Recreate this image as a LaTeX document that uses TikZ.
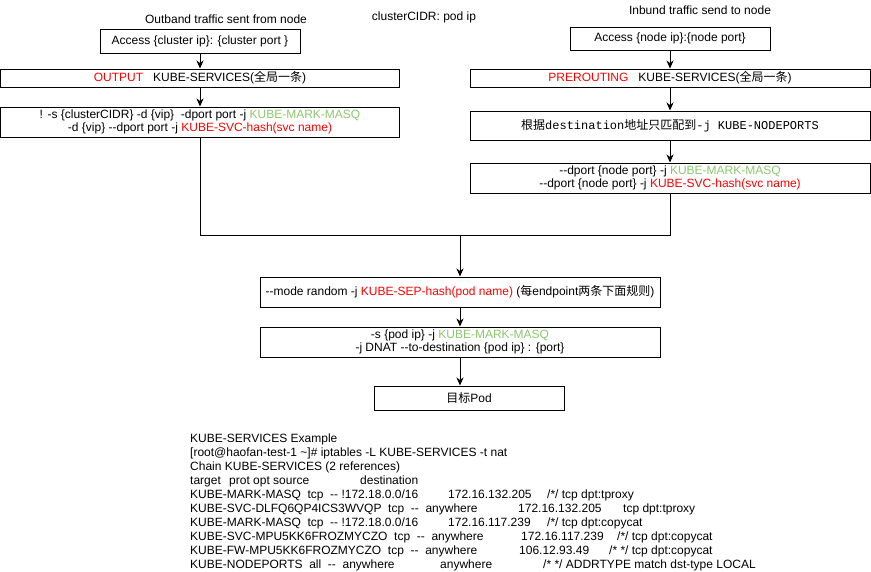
\documentclass[tikz,border=0pt]{standalone}
\usepackage{fontspec}
\newfontfamily\sansfont{Liberation Sans}
\newfontfamily\monofont{Liberation Mono}
\newfontfamily\cjk{Noto Sans CJK SC}
\usetikzlibrary{arrows.meta}
\definecolor{kred}{RGB}{255,0,0}
\definecolor{kgreen}{RGB}{140,200,110}

\begin{document}
\begin{tikzpicture}[x=1pt, y=-1pt, font=\sansfont\fontsize{12}{13.5}\selectfont,
        rulebox/.style={draw, line width=1pt, inner sep=0pt, align=center},
        flow/.style={-{Stealth[length=8pt,width=7pt,inset=2.5pt]}, line width=1pt},
        txt/.style={anchor=base west, inner sep=0pt}]
        \fill[white] (0,0) rectangle (871,571);
        \useasboundingbox (0,0) rectangle (871,571);

        % titles
        \node (outtitle) at (226,19) {Outband traffic sent from node};
        \node (cidr) at (424,17) {clusterCIDR: pod ip};
        \node (intitle) at (700,10) {Inbund traffic send to node};

        % outband side
        \node[rulebox, minimum width=200, minimum height=24] (accc) at (200,41) {Access \{cluster ip\}: \{cluster port \}};
        \node[rulebox, minimum width=399, minimum height=18] (output) at (200,78) {{\color{kred}OUTPUT}\ \ \ KUBE-SERVICES({\cjk 全局一条})};
        \node[rulebox, minimum width=399, minimum height=30] (lrule) at (200,122) {! -s \{clusterCIDR\} -d \{vip\}\ \ -dport port -j {\color{kgreen}KUBE-MARK-MASQ}\\
            -d \{vip\} --dport port -j {\color{kred}KUBE-SVC-hash(svc name)}};

        % inbund side
        \node[rulebox, minimum width=200, minimum height=23] (accn) at (670,38.5) {Access \{node ip\}:\{node port\}};
        \node[rulebox, minimum width=400, minimum height=18] (prert) at (670,78) {{\color{kred}PREROUTING}\ \ \ KUBE-SERVICES({\cjk 全局一条})};
        \node[rulebox, minimum width=400, minimum height=29] (nodeports) at (670,125.5) {{\cjk 根据}{\monofont destination}{\cjk 地址只匹配到}{\monofont -j KUBE-NODEPORTS}};
        \node[rulebox, minimum width=400, minimum height=30] (rdport) at (670,178) {--dport \{node port\} -j {\color{kgreen}KUBE-MARK-MASQ}\\
            --dport \{node port\} -j {\color{kred}KUBE-SVC-hash(svc name)}};

        % common part
        \coordinate (merge) at (460,235);
        \node[rulebox, minimum width=400, minimum height=30] (sep) at (460,292) {--mode random -j {\color{kred}KUBE-SEP-hash(pod name)} ({\cjk 每}endpoint{\cjk 两条下面规则})};
        \node[rulebox, minimum width=400, minimum height=30] (dnat) at (460,342) {-s \{pod ip\} -j {\color{kgreen}KUBE-MARK-MASQ}\\
            -j DNAT --to-destination \{pod ip\} : \{port\}};
        \node[rulebox, minimum width=190, minimum height=24] (pod) at (469,398) {{\cjk 目标}Pod};

        \draw[flow] (accc) -- (output);
        \draw[flow] (output) -- (lrule);
        \draw[flow] (accn) -- (prert);
        \draw[flow] (prert) -- (nodeports);
        \draw[flow] (nodeports) -- (rdport);
        \draw[line width=1pt] (lrule.south) |- (rdport.south |- merge) -- (rdport.south);
        \draw[flow] (merge) -- (sep.north);
        \draw[flow] (sep) -- (dnat);
        \draw[flow] (dnat.south) -- (dnat.south |- pod.north);

        % example listing
        \node[txt] (l1) at (190,442) {KUBE-SERVICES Example};
        \node[txt] (l2) at (190,456) {[root@haofan-test-1 \textasciitilde]\# iptables -L KUBE-SERVICES -t nat};
        \node[txt] (l3) at (190,470) {Chain KUBE-SERVICES (2 references)};
        \node[txt] (l4) at (190,484) {target};
        \node[txt] (l4b) at (229,484) {prot opt source};
        \node[txt] (l4c) at (360,484) {destination};
        \node[txt] (l5) at (190,498) {KUBE-MARK-MASQ\ \ tcp\ \ -- !172.18.0.0/16};
        \node[txt] (l5b) at (448,498) {172.16.132.205};
        \node[txt] (l5c) at (547,498) {/*/ tcp dpt:tproxy};
        \node[txt] (l6) at (190,512) {KUBE-SVC-DLFQ6QP4ICS3WVQP\ \ tcp\ \ --\ \ anywhere};
        \node[txt] (l6b) at (518,512) {172.16.132.205};
        \node[txt] (l6c) at (623,512) {tcp dpt:tproxy};
        \node[txt] (l7) at (190,526) {KUBE-MARK-MASQ\ \ tcp\ \ -- !172.18.0.0/16};
        \node[txt] (l7b) at (448,526) {172.16.117.239};
        \node[txt] (l7c) at (547,526) {/*/ tcp dpt:copycat};
        \node[txt] (l8) at (190,540) {KUBE-SVC-MPU5KK6FROZMYCZO\ \ tcp\ \ --\ \ anywhere};
        \node[txt] (l8b) at (521,540) {172.16.117.239};
        \node[txt] (l8c) at (617,540) {/*/ tcp dpt:copycat};
        \node[txt] (l9) at (190,554) {KUBE-FW-MPU5KK6FROZMYCZO\ \ tcp\ \ --\ \ anywhere};
        \node[txt] (l9b) at (519,554) {106.12.93.49};
        \node[txt] (l9c) at (609,554) {/* */ tcp dpt:copycat};
        \node[txt] (l10) at (190,568) {KUBE-NODEPORTS\ \ all\ \ --\ \ anywhere};
        \node[txt] (l10b) at (440,568) {anywhere};
        \node[txt] (l10c) at (543,568) {/* */ ADDRTYPE match dst-type LOCAL};
\end{tikzpicture}
\end{document}
